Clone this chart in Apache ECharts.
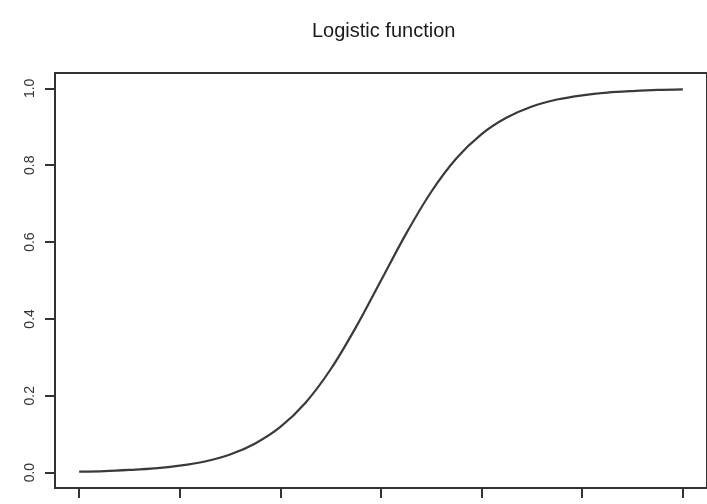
<!DOCTYPE html>
<html>
<head>
<meta charset="utf-8">
<script src="https://cdn.jsdelivr.net/npm/echarts@6/dist/echarts.min.js"></script>
<style>
html,body{margin:0;padding:0;background:#fff;}
#chart{width:707px;height:504px;}
</style>
</head>
<body>
<div id="chart"></div>
<script>
// x positions of the sampled curve points
var xValues = [-6, -5.5, -5, -4.5, -4, -3.5, -3, -2.5, -2, -1.5, -1, -0.5, 0,
               0.5, 1, 1.5, 2, 2.5, 3, 3.5, 4, 4.5, 5, 5.5, 6];
// y values
var yValues = [0.0025, 0.004, 0.007, 0.011, 0.018, 0.029, 0.047, 0.076, 0.119, 0.182, 0.269, 0.378, 0.5,
               0.622, 0.731, 0.818, 0.881, 0.924, 0.953, 0.971, 0.982, 0.989, 0.993, 0.996, 0.9975];
var xTicks = [-6, -4, -2, 0, 2, 4, 6];
var yTicks = [0, 0.2, 0.4, 0.6, 0.8, 1.0];
var titleText = 'Logistic function';

var points = xValues.map(function (x, i) { return [x, yValues[i]]; });

var chart = echarts.init(document.getElementById('chart'), null, {renderer: 'canvas'});
var frameColor = '#333';
chart.setOption({
  animation: false,
  backgroundColor: '#fff',
  title: {
    text: titleText,
    left: 307,
    top: 16,
    textStyle: {fontFamily: 'Liberation Sans', fontSize: 20, fontWeight: 'normal', color: '#1a1a1a'}
  },
  grid: {
    left: 55, top: 73, width: 660, height: 415,
    show: true, borderColor: frameColor, borderWidth: 2, backgroundColor: 'transparent'
  },
  xAxis: {
    type: 'value',
    min: -6.48, max: 6.48,
    axisLine: {show: true, onZero: false, lineStyle: {color: frameColor, width: 2}},
    axisTick: {show: true, length: 10, customValues: xTicks, lineStyle: {color: frameColor, width: 2}},
    axisLabel: {show: false},
    splitLine: {show: false}
  },
  yAxis: {
    type: 'value',
    min: -0.04, max: 1.04,
    axisLine: {show: true, onZero: false, lineStyle: {color: frameColor, width: 2}},
    axisTick: {show: true, length: 10, customValues: yTicks, lineStyle: {color: frameColor, width: 2}},
    axisLabel: {
      show: true, customValues: yTicks, rotate: 90, margin: 18,
      fontFamily: 'Liberation Sans', fontSize: 14, color: '#333',
      formatter: function (v) { return v.toFixed(1); }
    },
    splitLine: {show: false}
  },
  series: [{
    type: 'line',
    data: points,
    smooth: 0.3,
    showSymbol: false,
    lineStyle: {color: '#3a3a3a', width: 2.2},
    silent: true
  }]
});
</script>
</body>
</html>
